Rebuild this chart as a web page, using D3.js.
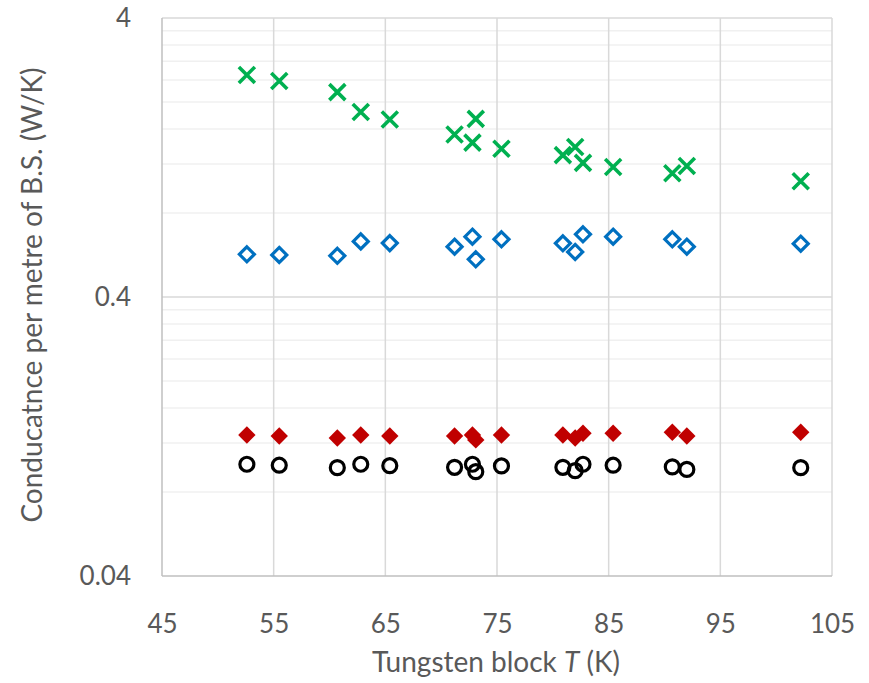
<!DOCTYPE html>
<html>
<head>
<meta charset="utf-8">
<script src="https://cdn.jsdelivr.net/npm/d3@7"></script>
<style>
  body { margin: 0; background: #fff; }
  text { font-family: Lato, "Open Sans", sans-serif; fill: #595959; }
</style>
</head>
<body>
<div id="chart"></div>
<script>
// block temperatures (K)
const temps = [52.6, 55.5, 60.7, 62.8, 65.4, 71.2, 72.8, 73.1, 75.4, 80.9, 82.0, 82.7, 85.4, 90.7, 92.0, 102.2]
// conductance per metre of B.S. (W/K)
const greenX = [2.50, 2.38, 2.17, 1.84, 1.73, 1.53, 1.43, 1.74, 1.36, 1.29, 1.38, 1.21, 1.17, 1.11, 1.18, 1.04]
const blueDiamond = [0.569, 0.566, 0.562, 0.633, 0.624, 0.606, 0.658, 0.546, 0.644, 0.623, 0.580, 0.671, 0.658, 0.644, 0.606, 0.621]
const redDiamond = [0.128, 0.127, 0.125, 0.128, 0.127, 0.127, 0.128, 0.123, 0.128, 0.128, 0.125, 0.130, 0.130, 0.131, 0.127, 0.131]
const blackCircle = [0.1006, 0.0998, 0.0978, 0.1006, 0.0994, 0.0981, 0.1006, 0.0946, 0.0992, 0.0981, 0.0954, 0.1006, 0.0998, 0.0984, 0.0964, 0.0978]

const xTicks = [45, 55, 65, 75, 85, 95, 105]
const yTicks = [0.04, 0.4, 4]

const width = 869
const height = 683
const plotL = 162, plotR = 832, plotT = 18, plotB = 576

const svg = d3.select("#chart").append("svg")
    .attr("width", width)
    .attr("height", height)

const x = d3.scaleLinear().domain([45, 105]).range([plotL, plotR])
const y = d3.scaleLog().domain([0.04, 4]).range([plotB, plotT])

// minor gridlines: 2..9 times each decade start
const minor = []
yTicks.slice(0, -1).forEach(t => d3.range(2, 10).forEach(k => minor.push(t * k)))

svg.append("g").selectAll("line")
    .data(minor)
    .enter().append("line")
    .attr("x1", plotL).attr("x2", plotR)
    .attr("y1", d => y(d)).attr("y2", d => y(d))
    .style("stroke", "#f0f0f0")
    .style("stroke-width", 1.5)

svg.append("g").selectAll("line")
    .data(yTicks.slice(1))
    .enter().append("line")
    .attr("x1", plotL).attr("x2", plotR)
    .attr("y1", d => y(d)).attr("y2", d => y(d))
    .style("stroke", "#d9d9d9")
    .style("stroke-width", 1.5)

svg.append("g").selectAll("line")
    .data(xTicks.slice(1))
    .enter().append("line")
    .attr("x1", d => x(d)).attr("x2", d => x(d))
    .attr("y1", plotT).attr("y2", plotB)
    .style("stroke", "#d9d9d9")
    .style("stroke-width", 1.5)

// axis lines
svg.append("line")
    .attr("x1", plotL).attr("x2", plotL).attr("y1", plotT).attr("y2", plotB)
    .style("stroke", "#bfbfbf").style("stroke-width", 1.5)
svg.append("line")
    .attr("x1", plotL).attr("x2", plotR).attr("y1", plotB).attr("y2", plotB)
    .style("stroke", "#bfbfbf").style("stroke-width", 1.5)

const xAxis = svg.append("g")
    .attr("transform", `translate(0,${plotB})`)
    .call(d3.axisBottom(x).tickValues(xTicks).tickSize(0).tickPadding(39).tickFormat(d3.format("d")))
xAxis.select(".domain").remove()

const yAxis = svg.append("g")
    .attr("transform", `translate(${plotL},0)`)
    .call(d3.axisLeft(y).tickValues(yTicks).tickSize(0).tickPadding(31).tickFormat(d => String(d)))
yAxis.select(".domain").remove()

svg.selectAll(".tick text")
    .style("font-size", "26px")
    .style("fill", "#595959")
    .style("font-family", "Lato, 'Open Sans', sans-serif")

// titles
const xt = svg.append("text")
    .attr("x", 496)
    .attr("y", 672)
    .attr("text-anchor", "middle")
    .style("font-size", "28px")
xt.append("tspan").text("Tungsten block ")
xt.append("tspan").style("font-style", "italic").text("T")
xt.append("tspan").text(" (K)")

svg.append("text")
    .attr("transform", "translate(42,295) rotate(-90)")
    .attr("text-anchor", "middle")
    .style("font-size", "28px")
    .text("Conducatnce per metre of B.S. (W/K)")

// markers
const pts = vals => temps.map((t, i) => ({ t: t, v: vals[i] }))

const diamond = s => `M0,${-s}L${s},0L0,${s}L${-s},0Z`
const cross = s => `M${-s},${-s}L${s},${s}M${-s},${s}L${s},${-s}`

svg.append("g").selectAll("path")
    .data(pts(greenX))
    .enter().append("path")
    .attr("transform", d => `translate(${x(d.t)},${y(d.v)})`)
    .attr("d", cross(8))
    .style("fill", "none")
    .style("stroke", "#00b050")
    .style("stroke-width", 3.6)

svg.append("g").selectAll("path")
    .data(pts(blueDiamond))
    .enter().append("path")
    .attr("transform", d => `translate(${x(d.t)},${y(d.v)})`)
    .attr("d", diamond(7.5))
    .style("fill", "none")
    .style("stroke", "#0070c0")
    .style("stroke-width", 3.2)

svg.append("g").selectAll("path")
    .data(pts(redDiamond))
    .enter().append("path")
    .attr("transform", d => `translate(${x(d.t)},${y(d.v)})`)
    .attr("d", diamond(8.7))
    .style("fill", "#c00000")

svg.append("g").selectAll("circle")
    .data(pts(blackCircle))
    .enter().append("circle")
    .attr("cx", d => x(d.t))
    .attr("cy", d => y(d.v))
    .attr("r", 7)
    .style("fill", "none")
    .style("stroke", "#000")
    .style("stroke-width", 3.2)
</script>
</body>
</html>
